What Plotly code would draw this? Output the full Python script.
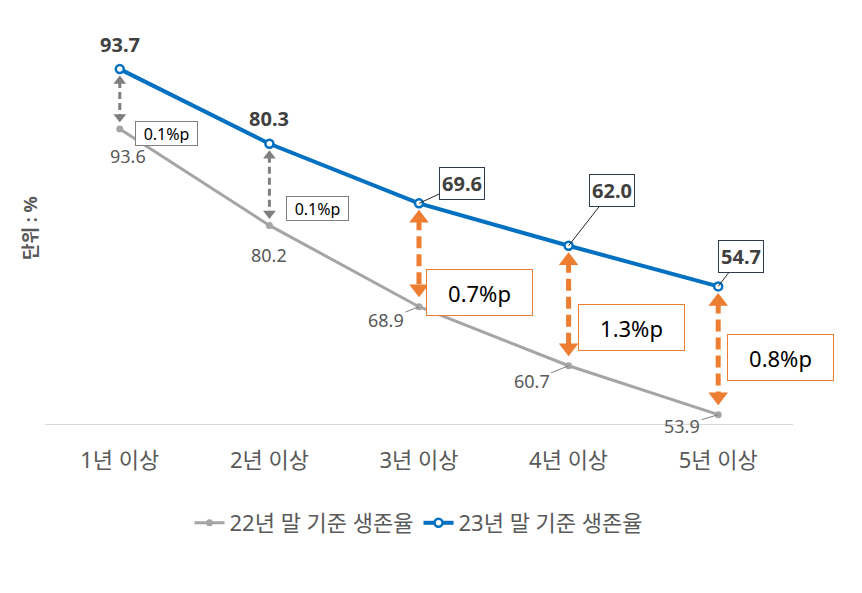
import plotly.graph_objects as go

categories = ["1년 이상", "2년 이상", "3년 이상", "4년 이상", "5년 이상"]
survival_22 = [93.6, 80.2, 68.9, 60.7, 53.9]
survival_23 = [93.7, 80.3, 69.6, 62.0, 54.7]
gap_labels = ["0.1%p", "0.1%p", "0.7%p", "1.3%p", "0.8%p"]

FONT = "Noto Sans, Noto Sans CJK KR, sans-serif"
BLUE = "#0070C0"
GRAY = "#A5A5A5"
ORANGE = "#ED7D31"
TEXT = "#595959"

# page has an 8px body margin, so the figure is a bit smaller than the window
W, H = 854, 585
M_L, M_R, M_T, M_B = 37, 69, 26, 169
PLOT_H = H - M_T - M_B
PAGE_OFF = 8

Y_RANGE = [30, 100]
Y2_RANGE = [52.6, 106.8]


def to_y(v2):
    # gray series value (y2) -> equivalent value on the main y axis
    frac = (v2 - Y2_RANGE[0]) / (Y2_RANGE[1] - Y2_RANGE[0])
    return Y_RANGE[0] + frac * (Y_RANGE[1] - Y_RANGE[0])


def px_to_y(px):
    return px * (Y_RANGE[1] - Y_RANGE[0]) / PLOT_H


def paper_y(py):
    # py is a screen pixel row
    return (H - M_B - (py - PAGE_OFF)) / PLOT_H


fig = go.Figure()

fig.add_trace(
    go.Scatter(
        x=categories,
        y=survival_22,
        yaxis="y2",
        mode="lines+markers",
        name="22년 말 기준 생존율",
        line={"color": GRAY, "width": 3},
        marker={"color": GRAY, "size": 7},
        hoverinfo="skip",
    )
)
fig.add_trace(
    go.Scatter(
        x=categories,
        y=survival_23,
        mode="lines+markers",
        name="23년 말 기준 생존율",
        line={"color": BLUE, "width": 4},
        marker={"color": "white", "size": 8, "line": {"color": BLUE, "width": 2.5}},
        hoverinfo="skip",
    )
)

# gap arrows between the two series
for i, cat in enumerate(categories):
    big = i >= 2
    color = ORANGE if big else "#7F7F7F"
    head = 17 if big else 11
    top = survival_23[i] - px_to_y(15 if big else 12)
    bottom = to_y(survival_22[i]) + px_to_y(18 if big else 12)
    fig.add_trace(
        go.Scatter(
            x=[cat, cat],
            y=[top, bottom],
            mode="lines+markers",
            line={"color": color, "width": 5 if big else 3, "dash": "12px,6px" if big else "7px,4px"},
            marker={"symbol": ["triangle-up", "triangle-down"], "size": head, "color": color},
            showlegend=False,
            hoverinfo="skip",
        )
    )

annotations = []

# 23 labels
blue_offsets = [None, None, (43, -20), (43, -55), (23, -30)]
for i, cat in enumerate(categories):
    if blue_offsets[i] is None:
        annotations.append(
            dict(x=cat, y=survival_23[i], text=f"<b>{survival_23[i]:.1f}</b>", showarrow=False,
                 yshift=25, font={"size": 20, "color": "#404040"})
        )
    else:
        ax, ay = blue_offsets[i]
        annotations.append(
            dict(x=cat, y=survival_23[i], text=f"<b>{survival_23[i]:.1f}</b>", showarrow=True,
                 ax=ax, ay=ay, arrowhead=0, arrowwidth=1, arrowcolor="#262626",
                 bordercolor="#2F3B4C", borderwidth=1, borderpad=2, bgcolor="white",
                 font={"size": 20, "color": "#404040"})
        )

# 22 labels
gray_offsets = [(8, -27), (0, -30), (-33, 13), (-37, 15), (-36, 11)]
for i, cat in enumerate(categories):
    dx, dy = gray_offsets[i]
    if i < 2:
        annotations.append(
            dict(x=cat, y=survival_22[i], yref="y2", text=f"{survival_22[i]:.1f}", showarrow=False,
                 xshift=dx, yshift=dy, font={"size": 18, "color": TEXT})
        )
    else:
        annotations.append(
            dict(x=cat, y=survival_22[i], yref="y2", text=f"{survival_22[i]:.1f}", showarrow=True,
                 ax=dx, ay=dy, arrowhead=0, arrowwidth=1, arrowcolor="#7F7F7F",
                 font={"size": 18, "color": TEXT})
        )

# gap boxes
box_pos = [(47, 133), (48, 208), (60, 292), (63, 327), (62, 357)]
for i, cat in enumerate(categories):
    dx, py = box_pos[i]
    big = i >= 2
    annotations.append(
        dict(
            x=cat, xshift=dx, y=paper_y(py), yref="paper", yanchor="middle", xanchor="center",
            text=gap_labels[i], showarrow=False,
            width=97 if big else 57, height=37 if big else 19, borderpad=4 if big else 2,
            bordercolor=ORANGE if big else "#7F7F7F", borderwidth=1, bgcolor="white",
            font={"size": 22 if big else 16, "color": "black"},
        )
    )

annotations.append(
    dict(x=(30 - PAGE_OFF - M_L) / (W - M_L - M_R), y=paper_y(228), xref="paper", yref="paper",
         xanchor="center", yanchor="middle",
         text="<b>단위 : %</b>", textangle=-90, showarrow=False,
         font={"size": 18, "color": TEXT})
)

fig.update_layout(
    width=W,
    height=H,
    margin={"l": M_L, "r": M_R, "t": M_T, "b": M_B},
    paper_bgcolor="white",
    plot_bgcolor="white",
    font={"family": FONT, "color": TEXT},
    showlegend=True,
    legend={
        "orientation": "h",
        "x": 0.5,
        "xanchor": "center",
        "y": -99 / PLOT_H,
        "yanchor": "middle",
        "font": {"size": 22, "color": TEXT},
        "itemwidth": 30,
    },
    xaxis={
        "type": "category",
        "range": [-0.5, 4.5],
        "showgrid": False,
        "showline": True,
        "linecolor": "#D9D9D9",
        "linewidth": 1,
        "ticks": "outside",
        "ticklen": 17,
        "tickcolor": "rgba(0,0,0,0)",
        "tickfont": {"size": 22, "color": TEXT},
        "zeroline": False,
    },
    yaxis={
        "range": Y_RANGE,
        "visible": False,
    },
    yaxis2={
        "range": Y2_RANGE,
        "overlaying": "y",
        "side": "right",
        "visible": False,
    },
    annotations=annotations,
)

fig.write_html("out.html")
